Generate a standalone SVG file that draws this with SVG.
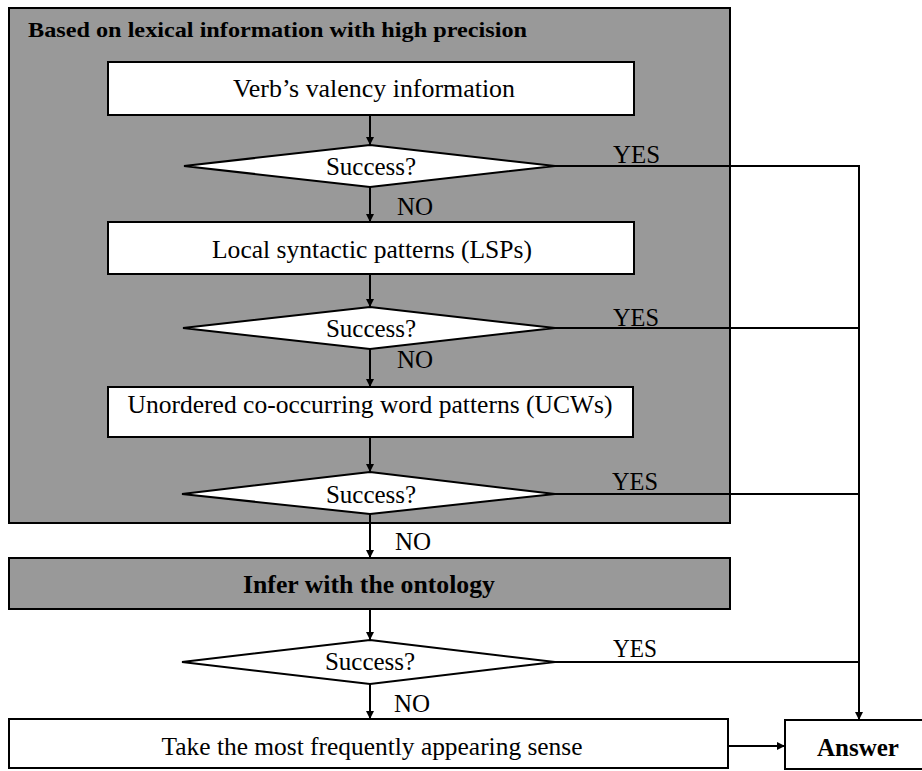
<svg xmlns="http://www.w3.org/2000/svg" width="922" height="771" viewBox="0 0 922 771">
<style>
.t{font-family:"Liberation Serif","Times New Roman",serif;font-size:25px;fill:#000}
.b{font-weight:bold}
.m{text-anchor:middle}
.box{fill:#fff;stroke:#000;stroke-width:2}
.gray{fill:#999999;stroke:#000;stroke-width:2}
.ln{fill:none;stroke:#000;stroke-width:2}
</style>
<defs>
<marker id="ah" viewBox="0 0 10 10" refX="10" refY="5" markerWidth="9" markerHeight="8" markerUnits="userSpaceOnUse" orient="auto">
<path d="M0,0 L10,5 L0,10 Z" fill="#000"/>
</marker>
</defs>
<g id="lexical-group">
<rect class="gray" x="9" y="8" width="721" height="515"/>
<text class="t b" x="28" y="37" style="font-size:22px" textLength="499" lengthAdjust="spacingAndGlyphs">Based on lexical information with high precision</text>
</g>
<g id="verb">
<rect class="box" x="108" y="62" width="526" height="53"/>
<text class="t m" x="374" y="97" textLength="282" lengthAdjust="spacingAndGlyphs">Verb’s valency information</text>
</g>
<g id="d1">
<polygon class="box" points="370,145 555,166 370,187 184,166"/>
<text class="t m" x="371" y="175">Success?</text>
</g>
<g id="lsp">
<rect class="box" x="108" y="222" width="526" height="52"/>
<text class="t m" x="372" y="258" textLength="320" lengthAdjust="spacingAndGlyphs">Local syntactic patterns (LSPs)</text>
</g>
<g id="d2">
<polygon class="box" points="370,307 555,328 370,349 183,328"/>
<text class="t m" x="371" y="337">Success?</text>
</g>
<g id="ucw">
<rect class="box" x="108" y="387" width="525" height="50"/>
<text class="t m" x="370" y="413" textLength="485" lengthAdjust="spacingAndGlyphs">Unordered co-occurring word patterns (UCWs)</text>
</g>
<g id="d3">
<polygon class="box" points="370,472 555,494 370,514 182,494"/>
<text class="t m" x="371" y="503">Success?</text>
</g>
<g id="ontology">
<rect class="gray" x="9" y="558" width="721" height="51"/>
<text class="t b m" x="369" y="593" textLength="252" lengthAdjust="spacingAndGlyphs">Infer with the ontology</text>
</g>
<g id="d4">
<polygon class="box" points="370,640 555,662 370,684 182,662"/>
<text class="t m" x="370" y="670">Success?</text>
</g>
<g id="frequent">
<rect class="box" x="9" y="719" width="719" height="49"/>
<text class="t m" x="372" y="755" textLength="421" lengthAdjust="spacingAndGlyphs">Take the most frequently appearing sense</text>
</g>
<g id="answer">
<rect class="box" x="785" y="720" width="140" height="49"/>
<text class="t b m" x="858" y="756">Answer</text>
</g>
<g id="connectors">
<line class="ln" x1="370" y1="115" x2="370" y2="145" marker-end="url(#ah)"/>
<line class="ln" x1="370" y1="187" x2="370" y2="222" marker-end="url(#ah)"/>
<line class="ln" x1="370" y1="274" x2="370" y2="307" marker-end="url(#ah)"/>
<line class="ln" x1="370" y1="349" x2="370" y2="387" marker-end="url(#ah)"/>
<line class="ln" x1="370" y1="437" x2="370" y2="472" marker-end="url(#ah)"/>
<line class="ln" x1="370" y1="514" x2="370" y2="558" marker-end="url(#ah)"/>
<line class="ln" x1="370" y1="609" x2="370" y2="640" marker-end="url(#ah)"/>
<line class="ln" x1="370" y1="684" x2="370" y2="719" marker-end="url(#ah)"/>
<line class="ln" x1="555" y1="166" x2="859" y2="166"/>
<line class="ln" x1="555" y1="328" x2="859" y2="328"/>
<line class="ln" x1="555" y1="494" x2="859" y2="494"/>
<line class="ln" x1="555" y1="662" x2="859" y2="662"/>
<line class="ln" x1="859" y1="165" x2="859" y2="720" marker-end="url(#ah)"/>
<line class="ln" x1="728" y1="746" x2="785" y2="746" marker-end="url(#ah)"/>
<text class="t" x="613" y="163" textLength="47" lengthAdjust="spacingAndGlyphs">YES</text>
<text class="t" x="397" y="215">NO</text>
<text class="t" x="613" y="326" textLength="46" lengthAdjust="spacingAndGlyphs">YES</text>
<text class="t" x="397" y="368">NO</text>
<text class="t" x="612" y="490" textLength="46" lengthAdjust="spacingAndGlyphs">YES</text>
<text class="t" x="395" y="550">NO</text>
<text class="t" x="613" y="657" textLength="44" lengthAdjust="spacingAndGlyphs">YES</text>
<text class="t" x="394" y="712">NO</text>
</g>
</svg>
